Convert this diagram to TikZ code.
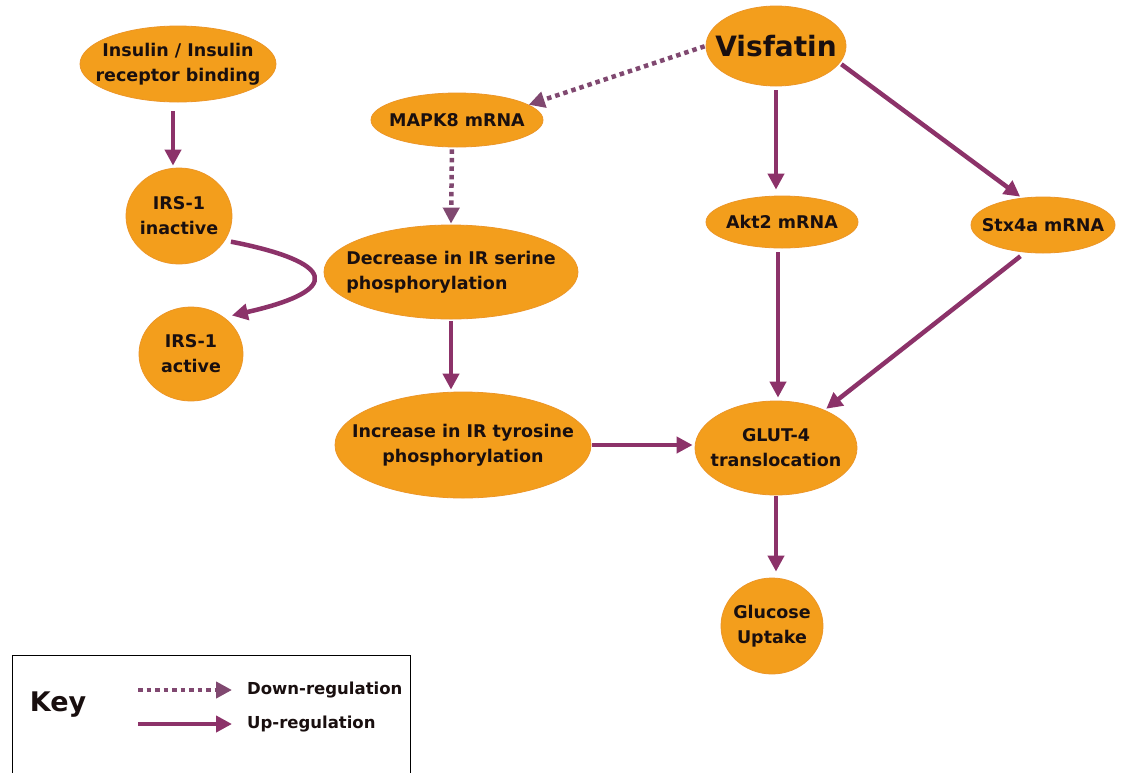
\documentclass[tikz,border=0pt]{standalone}
\usepackage{fontspec}
\setmainfont{DejaVu Sans}
\usetikzlibrary{arrows.meta,shapes.geometric}
\definecolor{nodefill}{RGB}{243,158,28}
\definecolor{nodeedge}{RGB}{236,150,40}
\definecolor{arr}{RGB}{140,50,105}
\definecolor{darr}{RGB}{128,72,112}
\definecolor{txt}{RGB}{25,15,15}
\begin{document}
\begin{tikzpicture}[x=1pt,y=-1pt,
 bub/.style={ellipse, fill=nodefill, draw=nodeedge, line width=0.8pt, inner xsep=-40pt, inner ysep=-20pt, text=txt,
   font=\fontsize{17.5}{25}\selectfont\bfseries, align=center},
 up/.style={draw=arr, line width=4.5pt, -{Triangle[length=16pt,width=16pt]}},
 down/.style={draw=darr, line width=4.5pt, dash pattern=on 4.5pt off 4pt, -{Triangle[length=16pt,width=16pt]}},
 keytext/.style={anchor=west, inner sep=0pt, text=txt, font=\fontsize{16.5}{18}\selectfont\bfseries}
]
\useasboundingbox (0,0) rectangle (1125,772);
\fill[white] (0,0) rectangle (1125,772);

% nodes
\node[bub, minimum width=196pt, minimum height=76pt] (ins) at (178,64) {Insulin / Insulin\\receptor binding};
\node[bub, minimum width=106pt, minimum height=96pt] (irsi) at (179,216) {IRS-1\\inactive};
\node[bub, minimum width=104pt, minimum height=94pt] (irsa) at (191,354) {IRS-1\\active};
\node[bub, minimum width=172pt, minimum height=54pt] (mapk) at (457,120) {MAPK8 mRNA};
\node[bub, minimum width=254pt, minimum height=94pt, align=left] (dec) at (451,272) {Decrease in IR serine\\phosphorylation};
\node[bub, minimum width=256pt, minimum height=106pt] (inc) at (463,445) {Increase in IR tyrosine\\phosphorylation};
\node[bub, minimum width=140pt, minimum height=80pt, font=\fontsize{28}{30}\selectfont\bfseries] (vis) at (776,46) {Visfatin};
\node[bub, minimum width=152pt, minimum height=52pt] (akt) at (782,222) {Akt2 mRNA};
\node[bub, minimum width=144pt, minimum height=56pt] (stx) at (1043,225) {Stx4a mRNA};
\node[bub, minimum width=162pt, minimum height=94pt] (glut) at (776,448) {GLUT-4\\translocation};
\node[bub, minimum width=102pt, minimum height=96pt] (glu) at (772,626) {Glucose\\Uptake};

% connectors
\draw[up, shorten <=9pt, shorten >=2pt] ([xshift=-5pt]ins.south) -- ([xshift=-6pt]irsi.north);
\draw[up, shorten <=6pt, shorten >=8pt] (irsi.-28) .. controls (335,262) and (345,290) .. (irsa.48);
\draw[down, shorten <=1pt, shorten >=0pt] (vis.west) -- (mapk.12);
\draw[down, shorten <=2pt, shorten >=1pt] ([xshift=-5pt]mapk.south) -- (dec.north);
\draw[up, shorten <=2pt, shorten >=2pt] (dec.south) -- (dec.south |- inc.north);
\draw[up, shorten <=4pt, shorten >=6pt] (vis.south) -- (vis.south |- akt.north);
\draw[up, shorten <=2pt, shorten >=2pt] (vis.-15) -- (stx.128);
\draw[up, shorten <=4pt, shorten >=3pt] ([xshift=-4pt]akt.south) -- ([xshift=-4pt]akt.south |- glut.north);
\draw[up, shorten <=6pt, shorten >=2pt] (stx.237) -- (glut.38);
\draw[up, shorten <=1pt, shorten >=2pt] (inc.east) -- (inc.east -| glut.west);
\draw[up, shorten <=1pt, shorten >=6pt] (glut.south) -- (glut.south |- glu.north);

% key
\draw[line width=1pt, black] (12,655) rectangle (410,800);
\node[text=txt, font=\fontsize{27}{29}\selectfont\bfseries, inner sep=0pt] (key) at (58,705) {Key};
\coordinate (d1) at (138,690);
\coordinate (d2) at (232,690);
\coordinate (u1) at (138,724);
\coordinate (u2) at (232,724);
\draw[down] (d1) -- (d2);
\draw[up] (u1) -- (u2);
\node[keytext] (dl) at (247,690) {Down-regulation};
\node[keytext] (ul) at (247,724) {Up-regulation};
\end{tikzpicture}
\end{document}
